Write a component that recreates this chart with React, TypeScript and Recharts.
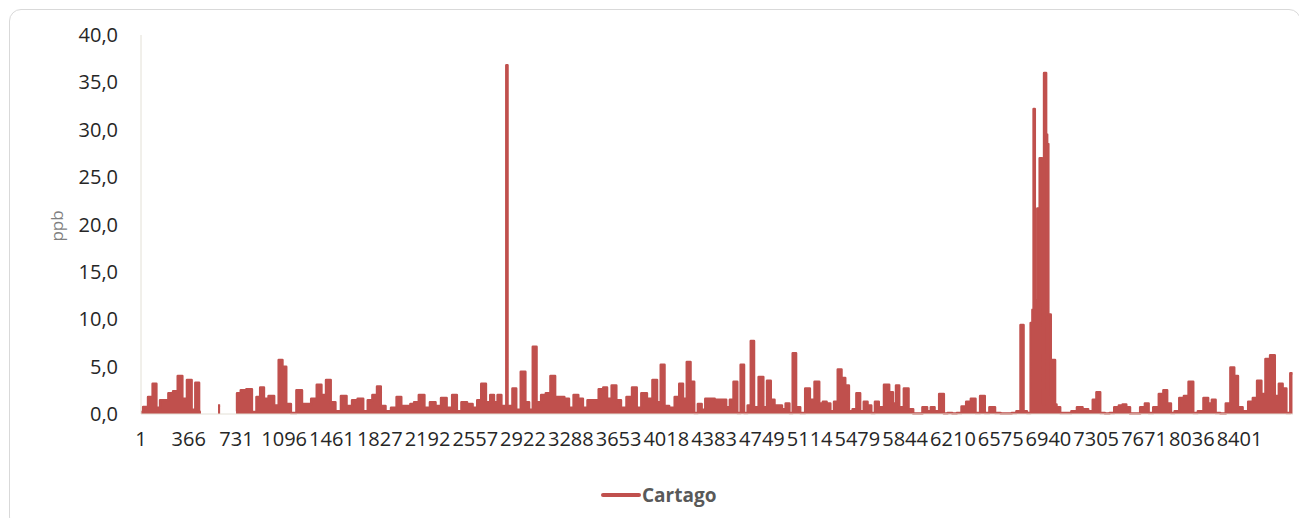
import { AreaChart, Area, XAxis, YAxis, Legend } from 'recharts';

// day index of each reading (x axis is the running day number)
const days = [
  1, 34, 76, 104, 133, 161, 189, 232, 261, 303, 331, 374, 402, 431, 459, 500,
  590, 606, 640,
  728, 743, 785, 828, 870, 898, 927, 955, 998, 1040, 1068, 1097, 1126, 1168, 1211, 1253,
  1281, 1324, 1366, 1395, 1437, 1466, 1509, 1551, 1594, 1636, 1679, 1721, 1749, 1792, 1820,
  1849, 1892, 1934, 1977, 2005, 2047, 2075, 2104, 2147, 2189, 2232, 2274, 2317, 2359, 2402,
  2430, 2473, 2515, 2558, 2586, 2620, 2657, 2686, 2714, 2742, 2771, 2790, 2799, 2808, 2827,
  2856, 2884, 2926, 2954, 2983, 3011, 3040, 3082, 3111, 3153, 3182, 3224, 3252, 3295, 3323,
  3366, 3394, 3437, 3480, 3522, 3550, 3579, 3621, 3650, 3692, 3735, 3777, 3806, 3848, 3891,
  3933, 3961, 3990, 4018, 4061, 4103, 4131, 4160, 4189, 4217, 4245, 4274, 4302, 4330, 4372,
  4404, 4461, 4490, 4518, 4546, 4575, 4598, 4626, 4654, 4674, 4703, 4745, 4774, 4802, 4831,
  4859, 4888, 4916, 4945, 4973, 4996, 5024, 5059, 5101, 5130, 5173, 5201, 5229, 5258, 5286,
  5315, 5343, 5372, 5400, 5428, 5457, 5486, 5514, 5542, 5571, 5599, 5628, 5657, 5708, 5736,
  5765, 5784, 5813, 5856, 5884, 5927, 5955, 5998, 6026, 6055, 6083, 6126, 6154, 6183, 6225,
  6254, 6297, 6325, 6368, 6396, 6439, 6467, 6510, 6553, 6595, 6638, 6681, 6709, 6744, 6755,
  6795, 6813, 6822, 6831, 6840, 6850, 6860, 6869, 6877, 6886, 6896, 6903, 6910, 6918, 6926,
  6934, 6944, 6953, 6962, 6972, 6986, 6995, 7008, 7051, 7094, 7137, 7179, 7222, 7265, 7293,
  7321, 7350, 7393, 7422, 7464, 7493, 7521, 7549, 7578, 7620, 7663, 7692, 7720, 7763, 7805,
  7833, 7862, 7891, 7919, 7962, 7990, 8033, 8061, 8104, 8147, 8175, 8204, 8232, 8275, 8317,
  8346, 8375, 8403, 8446, 8489, 8517, 8554, 8582, 8617, 8653, 8688, 8716, 8745, 8773, 8806,
];

// Cartago readings (ppb), null = no data
const cartago: (number | null)[] = [
  0.2, 0.75, 1.8, 3.2, 0.65, 1.45, 1.45, 2.2, 2.4, 4.0, 1.6, 3.6, 0.45, 3.3, 0.2, null,
  0.9, 0.9, null,
  0.3, 2.2, 2.5, 2.6, 0.2, 1.8, 2.8, 1.6, 1.9, 0.9, 5.7, 5.0, 1.05, 0.1, 2.5, 1.05,
  1.05, 1.6, 3.1, 2.0, 3.6, 1.25, 0.3, 1.9, 0.85, 1.45, 1.6, 0.3, 1.45, 2.0, 2.9,
  0.85, 0.3, 0.65, 1.8, 0.85, 0.85, 1.05, 1.25, 2.0, 0.65, 1.25, 0.85, 1.7, 0.65, 2.0,
  0.3, 1.25, 1.05, 0.65, 1.45, 3.2, 1.25, 2.0, 1.25, 2.0, 0.85, 0.85, 36.8, 0.85, 0.85,
  2.7, 0.45, 4.45, 1.25, 0.45, 7.1, 1.25, 2.0, 2.2, 4.0, 1.8, 1.8, 1.6, 0.65, 2.0,
  1.6, 0.65, 1.45, 1.45, 2.6, 2.8, 1.6, 3.0, 1.45, 0.65, 1.8, 2.8, 0.65, 2.2, 1.6,
  3.6, 1.25, 5.2, 0.85, 0.65, 1.8, 3.2, 1.6, 5.5, 3.4, 0.1, 1.05, 0.45, 1.6, 1.6,
  1.5, 1.5, 0.7, 1.5, 3.4, 0.1, 5.2, 0.1, 0.9, 7.7, 0.7, 3.9, 0.7, 3.5, 1.5,
  0.9, 0.9, 0.5, 1.1, 0.1, 6.4, 0.7, 0.1, 2.7, 1.5, 3.4, 1.1, 1.3, 1.1, 0.3,
  1.3, 4.7, 3.8, 3.0, 0.3, 0.5, 2.2, 0.3, 1.3, 0.9, 0.1, 1.3, 0.7, 3.1, 2.3,
  1.1, 3.0, 0.7, 2.7, 0.5, 0.05, 0.05, 0.7, 0.3, 0.7, 0.3, 2.1, 0.05, 0.1, 0.05,
  0.1, 0.8, 1.3, 1.6, 0.1, 1.9, 0.1, 0.7, 0.1, 0.05, 0.05, 0.1, 0.3, 9.4, 0.3,
  0.1, 9.6, 11.0, 32.2, 11.5, 12.0, 21.7, 21.7, 27.0, 27.0, 12.0, 1.0, 36.0, 36.0, 29.5,
  28.5, 10.5, 10.5, 2.0, 5.7, 5.7, 1.0, 0.7, 0.1, 0.1, 0.3, 0.7, 0.5, 0.3, 1.5,
  2.3, 0.1, 0.05, 0.1, 0.7, 0.9, 1.0, 0.7, 0.05, 0.05, 0.7, 1.1, 0.1, 0.7, 2.1,
  2.5, 1.1, 0.1, 0.3, 1.7, 1.9, 3.4, 0.1, 0.3, 1.7, 1.1, 1.5, 0.1, 0.05, 1.1,
  4.9, 4.0, 0.7, 0.3, 1.3, 1.7, 3.5, 2.1, 5.8, 6.2, 1.9, 3.2, 2.7, 0.1, 4.3,
];

const xTicks = [
  1, 366, 731, 1096, 1461, 1827, 2192, 2557, 2922, 3288, 3653, 4018,
  4383, 4749, 5114, 5479, 5844, 6210, 6575, 6940, 7305, 7671, 8036, 8401,
];
const yTicks = [0, 5, 10, 15, 20, 25, 30, 35, 40];

const data = days.map((day, i) => ({ day, cartago: cartago[i] }));

const RED = '#C0504D';
const FONT = '"Open Sans", "Noto Sans", sans-serif';

function LegendBox() {
  return (
    <div style={{ display: 'flex', alignItems: 'center', fontFamily: FONT }}>
      <svg width={40} height={10} style={{ display: 'block' }}>
        <line x1={2} y1={5} x2={38} y2={5} stroke={RED} strokeWidth={4} strokeLinecap="round" />
      </svg>
      <span style={{ fontSize: 19, fontWeight: 700, color: '#595959', marginLeft: 1 }}>Cartago</span>
    </div>
  );
}

export default function App() {
  return (
    <div style={{ position: 'absolute', left: 0, top: 0, width: 1299, height: 518, background: '#fff', overflow: 'hidden' }}>
      <div
        style={{
          position: 'absolute',
          left: 9,
          top: 9,
          width: 1292,
          height: 520,
          border: '1px solid #d9d9d9',
          borderRadius: 12,
          boxSizing: 'border-box',
        }}
      />
      <div style={{ position: 'absolute', left: 0, top: 0 }}>
        <AreaChart width={1299} height={518} data={data} margin={{ top: 35, right: 6, left: 0, bottom: 0 }}>
          <XAxis
            dataKey="day"
            type="number"
            domain={[1, 8810]}
            ticks={xTicks}
            interval={0}
            allowDataOverflow
            height={104}
            tickLine={false}
            tickMargin={12}
            axisLine={{ stroke: '#e3e0d6' }}
            tick={{ fill: '#262626', fontSize: 20, fontFamily: FONT }}
          />
          <YAxis
            type="number"
            domain={[0, 40]}
            ticks={yTicks}
            interval={0}
            width={141}
            tickLine={false}
            tickMargin={17}
            axisLine={{ stroke: '#e3e0d6' }}
            tick={{ fill: '#262626', fontSize: 20, fontFamily: FONT }}
            tickFormatter={(v: number) => v.toFixed(1).replace('.', ',')}
            label={() => (
              <text
                x={56}
                y={226}
                transform="rotate(-90 56 226)"
                textAnchor="middle"
                dominantBaseline="central"
                fill="#7f7f7f"
                fontSize={17}
                fontFamily={FONT}
              >
                ppb
              </text>
            )}
          />
          <Legend
            layout="horizontal"
            verticalAlign="middle"
            align="center"
            wrapperStyle={{ left: 601, top: 482, width: 140, height: 26 }}
            content={() => <LegendBox />}
          />
          <Area
            name="Cartago"
            dataKey="cartago"
            type="step"
            stroke={RED}
            strokeWidth={2.5}
            strokeLinejoin="round"
            fill={RED}
            fillOpacity={1}
            connectNulls={false}
            dot={false}
            activeDot={false}
            isAnimationActive={false}
          />
        </AreaChart>
      </div>
    </div>
  );
}
